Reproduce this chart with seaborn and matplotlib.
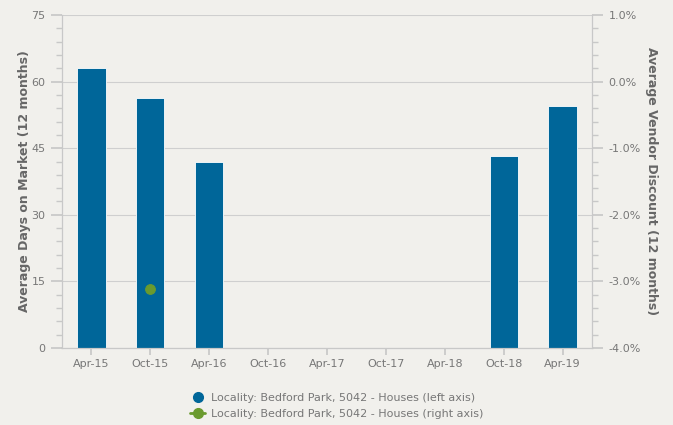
import matplotlib
matplotlib.use("Agg")
import matplotlib.pyplot as plt
import seaborn as sns
import numpy as np
import pandas as pd
from matplotlib.ticker import MultipleLocator, FuncFormatter
from matplotlib.lines import Line2D

categories = ["Apr-15", "Oct-15", "Apr-16", "Oct-16", "Apr-17", "Oct-17", "Apr-18", "Oct-18", "Apr-19"]
days_on_market = [63, 56.3, 42, np.nan, np.nan, np.nan, np.nan, 43.2, 54.6]
vendor_discount = [np.nan, -3.11, np.nan, np.nan, np.nan, np.nan, np.nan, np.nan, np.nan]
legend_labels = ["Locality: Bedford Park, 5042 - Houses (left axis)",
                 "Locality: Bedford Park, 5042 - Houses (right axis)"]

bg = "#F1F0EC"
blue = "#006699"
green = "#6A9A2E"
gray_txt = "#777777"
label_col = "#666666"
axis_col = "#C8C8C8"

sns.set_theme(style="white")
plt.rcParams['font.family'] = ['DejaVu Sans']

fig = plt.figure(figsize=(6.73, 4.25), dpi=100, facecolor=bg)
ax = fig.add_axes([62/673, 1-348/425, 530/673, 333/425])
ax.set_facecolor(bg)

df = pd.DataFrame({"cat": categories, "days": days_on_market})
sns.barplot(data=df, x="cat", y="days", color=blue, saturation=1, width=0.48, ax=ax,
            edgecolor="white", linewidth=0.6)
ax.set_xlim(-0.5, len(categories) - 0.5)
ax.set_ylim(0, 75)
ax.yaxis.set_major_locator(MultipleLocator(15))
ax.yaxis.set_minor_locator(MultipleLocator(3))
ax.grid(axis="y", which="major", color="#CFCFCF", linewidth=0.8)
ax.set_axisbelow(True)
ax.tick_params(axis="y", which="major", length=8, color=axis_col, labelcolor=gray_txt, labelsize=8, pad=4)
ax.tick_params(axis="y", which="minor", length=4, color=axis_col, left=True)
ax.tick_params(axis="x", length=5, color=axis_col, labelcolor=gray_txt, labelsize=8, bottom=True, pad=3)
ax.set_xlabel("")
ax.set_ylabel("Average Days on Market (12 months)", color=label_col, fontsize=9, fontweight="bold", labelpad=0)
ax.spines["top"].set_visible(False)
for s in ["left", "right", "bottom"]:
    ax.spines[s].set_color(axis_col)
    ax.spines[s].set_linewidth(0.8)

ax2 = ax.twinx()
df2 = pd.DataFrame({"x": np.arange(len(categories)), "v": vendor_discount})
sns.lineplot(data=df2, x="x", y="v", color=green, marker="o", markersize=7,
             markeredgecolor=green, linewidth=2, ax=ax2)
ax2.set_ylim(-4, 1)
ax2.yaxis.set_major_locator(MultipleLocator(1))
ax2.yaxis.set_minor_locator(MultipleLocator(0.2))
ax2.yaxis.set_major_formatter(FuncFormatter(lambda v, p: f"{v:.1f}%"))
ax2.tick_params(axis="y", which="major", length=8, color=axis_col, labelcolor=gray_txt, labelsize=8, pad=4)
ax2.tick_params(axis="y", which="minor", length=4, color=axis_col, right=True)
ax2.set_ylabel("Average Vendor Discount (12 months)", color=label_col, fontsize=9, fontweight="bold",
               rotation=270, labelpad=12)
ax2.set_xlabel("")
ax2.spines["top"].set_visible(False)
for s in ["left", "right", "bottom"]:
    ax2.spines[s].set_color(axis_col)
    ax2.spines[s].set_linewidth(0.8)
ax2.grid(False)

handles = [Line2D([], [], linestyle="none", marker="o", color=blue, markersize=7),
           Line2D([], [], color=green, marker="o", markersize=7, linewidth=2)]
fig.legend(handles, legend_labels, loc="center", bbox_to_anchor=(0.5, 1-406/425), frameon=False,
           fontsize=8, labelcolor=gray_txt, handlelength=1.4, handletextpad=0.5, labelspacing=0.55)

fig.savefig("out.png", dpi=100, facecolor=bg)
